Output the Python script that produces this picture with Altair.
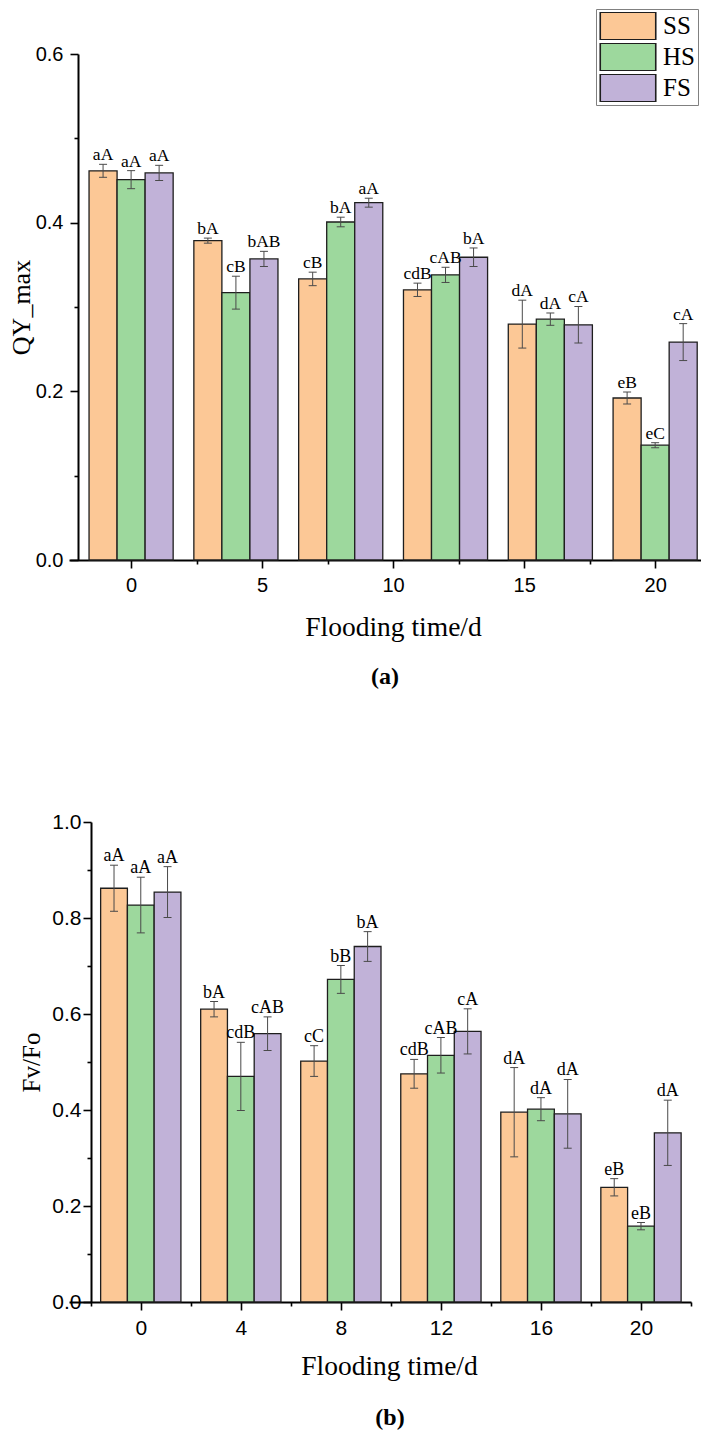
import altair as alt
import pandas as pd

DAYS = [0, 4, 8, 12, 16, 20]
SERIES = ["SS", "HS", "FS"]
COLORS = ["#FCC896", "#9DD89D", "#C1B2D8"]

# Panel (a): QY_max
QY_SS = [0.4615, 0.3787, 0.3333, 0.3204, 0.2797, 0.1921]
QY_HS = [0.4510, 0.3170, 0.4008, 0.3381, 0.2856, 0.1361]
QY_FS = [0.4590, 0.3570, 0.4237, 0.3590, 0.2789, 0.2584]
QY_SS_ERR = [0.0077, 0.0030, 0.0080, 0.0079, 0.0284, 0.0071]
QY_HS_ERR = [0.0107, 0.0195, 0.0057, 0.0090, 0.0073, 0.0030]
QY_FS_ERR = [0.0090, 0.0090, 0.0053, 0.0110, 0.0217, 0.0219]
QY_SS_LAB = ["aA", "bA", "cB", "cdB", "dA", "eB"]
QY_HS_LAB = ["aA", "cB", "bA", "cAB", "dA", "eC"]
QY_FS_LAB = ["aA", "bAB", "aA", "bA", "cA", "cA"]

# Panel (b): Fv/Fo
FV_SS = [0.862, 0.610, 0.502, 0.4754, 0.3954, 0.239]
FV_HS = [0.827, 0.470, 0.672, 0.514, 0.4017, 0.158]
FV_FS = [0.854, 0.559, 0.7406, 0.5638, 0.392, 0.3525]
FV_SS_ERR = [0.048, 0.016, 0.032, 0.030, 0.093, 0.018]
FV_HS_ERR = [0.058, 0.071, 0.029, 0.037, 0.024, 0.0076]
FV_FS_ERR = [0.053, 0.035, 0.031, 0.047, 0.0716, 0.068]
FV_SS_LAB = ["aA", "bA", "cC", "cdB", "dA", "eB"]
FV_HS_LAB = ["aA", "cdB", "bB", "cAB", "dA", "eB"]
FV_FS_LAB = ["aA", "cAB", "bA", "cA", "dA", "dA"]

QY_TICKS = [0, 5, 10, 15, 20]
QY_MINOR = [2.5, 7.5, 12.5, 17.5]
FV_TICKS = [0, 4, 8, 12, 16, 20]
FV_MINOR = [-2, 2, 6, 10, 14, 18, 22]


def frame(vals, errs, labs):
    rows = []
    for i, s in enumerate(SERIES):
        for j, d in enumerate(DAYS):
            rows.append({"day": d, "series": s, "idx": i,
                         "value": vals[i][j], "err": errs[i][j], "label": labs[i][j]})
    return pd.DataFrame(rows)


def panel(df, xdom, ydom, xvals, xminor, yvals, yminor, ytitle, ytitle_fs,
          ytitle_x, yoff, axis_fs, ylab_pad, label_fs, xtitle_x, xtitle_y,
          legend_x, legend_y, cap, cap_offset, cap_dx, width, height):
    W = 1.07
    base = alt.Chart(df).transform_calculate(
        x0=f"datum.day + (datum.idx - 1.5) * {W}",
        x1=f"datum.day + (datum.idx - 0.5) * {W}",
        xc=f"datum.day + (datum.idx - 1) * {W}",
        lo="datum.value - datum.err",
        hi="datum.value + datum.err",
    )
    xs = alt.Scale(domain=xdom, nice=False, zero=False)
    ys = alt.Scale(domain=ydom, nice=False, zero=True)

    xaxis = alt.Axis(values=xvals, format="d", labelFont="Liberation Sans",
                     labelFontSize=axis_fs, labelColor="black", labelPadding=7,
                     tickSize=8, tickWidth=1.6, tickColor="black",
                     domainColor="black", domainWidth=2, grid=False,
                     title="Flooding time/d", titleFont="Liberation Serif",
                     titleFontSize=27.5, titleFontWeight="normal", titleColor="black",
                     titleX=xtitle_x, titleY=xtitle_y, titleBaseline="alphabetic",
                     orient="bottom")
    yaxis = alt.Axis(values=yvals, format=".1f", labelFont="Liberation Sans",
                     labelFontSize=axis_fs, labelColor="black", labelPadding=ylab_pad,
                     tickSize=8, tickWidth=1.6, tickColor="black",
                     domainColor="black", domainWidth=2, grid=False, offset=yoff,
                     title=ytitle, titleFont="Liberation Serif", titleFontSize=ytitle_fs,
                     titleFontWeight="normal", titleColor="black",
                     titleX=ytitle_x, titleAngle=270, titleBaseline="middle",
                     orient="left")

    bars = base.mark_bar(stroke="#1e1e1e", strokeWidth=1.3).encode(
        x=alt.X("x0:Q", scale=xs, axis=xaxis),
        x2="x1",
        y=alt.Y("value:Q", scale=ys, axis=yaxis),
        y2=alt.datum(0),
        color=alt.Color("series:N", scale=alt.Scale(domain=SERIES, range=COLORS),
                        legend=alt.Legend(title=None, orient="none",
                                          legendX=legend_x, legendY=legend_y,
                                          symbolType="M-1,-0.5H1V0.5H-1Z",
                                          symbolSize=3080, symbolStrokeColor="#1e1e1e",
                                          symbolStrokeWidth=1.6, symbolOpacity=1,
                                          labelFont="Liberation Serif", labelFontSize=25,
                                          labelColor="black", labelOffset=6,
                                          clipHeight=28, rowPadding=3, padding=3,
                                          strokeColor="#808080", fillColor="white")),
    )
    rule = base.mark_rule(color="#4a4a4a", strokeWidth=1).encode(
        x=alt.X("xc:Q", scale=xs, axis=None),
        y=alt.Y("lo:Q", scale=ys, axis=None),
        y2="hi",
    )
    cap_hi = base.mark_tick(orient="horizontal", size=8, thickness=1,
                            color="#4a4a4a", opacity=1).encode(
        x=alt.X("xc:Q", scale=xs, axis=None),
        y=alt.Y("hi:Q", scale=ys, axis=None),
    )
    cap_lo = base.mark_tick(orient="horizontal", size=8, thickness=1,
                            color="#4a4a4a", opacity=1).encode(
        x=alt.X("xc:Q", scale=xs, axis=None),
        y=alt.Y("lo:Q", scale=ys, axis=None),
    )
    text = base.mark_text(baseline="alphabetic", dy=-4, font="Liberation Serif",
                          fontSize=label_fs, color="black").encode(
        x=alt.X("xc:Q", scale=xs, axis=None),
        y=alt.Y("hi:Q", scale=ys, axis=None),
        text="label:N",
    )
    minor = base.mark_point(opacity=0).encode(
        x=alt.X("xc:Q", scale=xs,
                axis=alt.Axis(values=xminor, labels=False, tickSize=4, tickWidth=1.6,
                              tickColor="black", domain=False, grid=False,
                              title=None, orient="bottom")),
        y=alt.Y("value:Q", scale=ys,
                axis=alt.Axis(values=yminor, labels=False, tickSize=4, tickWidth=1.6,
                              tickColor="black", domain=False, grid=False,
                              title=None, orient="left", offset=yoff)),
    )
    return alt.layer(bars, rule, cap_hi, cap_lo, text, minor).resolve_axis(
        x="independent", y="independent"
    ).properties(
        width=width, height=height,
        title=alt.TitleParams(cap, orient="bottom", anchor="middle", frame="group",
                              font="Liberation Serif", fontSize=24, fontWeight="bold",
                              color="black", offset=cap_offset, dx=cap_dx),
    )


df_a = frame([QY_SS, QY_HS, QY_FS], [QY_SS_ERR, QY_HS_ERR, QY_FS_ERR],
             [QY_SS_LAB, QY_HS_LAB, QY_FS_LAB])
df_b = frame([FV_SS, FV_HS, FV_FS], [FV_SS_ERR, FV_HS_ERR, FV_FS_ERR],
             [FV_SS_LAB, FV_HS_LAB, FV_FS_LAB])

top = panel(df_a, [-2.37, 21.75], [0, 0.6], QY_TICKS, QY_MINOR,
            [0, 0.2, 0.4, 0.6], [0.1, 0.3, 0.5], "QY_max", 26,
            -57, -9, 20, 7, 17.5, 324, 75, 527, -45, "(a)", 24, 0, 632, 506)
bottom = panel(df_b, [-2.87, 22], [0, 1.0], FV_TICKS, FV_MINOR,
               [0, 0.2, 0.4, 0.6, 0.8, 1.0], [0.1, 0.3, 0.5, 0.7, 0.9], "Fv/Fo", 25,
               -60, -22, 21, 2, 18, 320, 72, 513, -51, "(b)", 26, 10, 622, 480)

chart = alt.concat(top, bottom, columns=1, bounds="flush", spacing=262).properties(
    padding=0
).configure_view(stroke=None)

chart.save("out.html", embed_options={"renderer": "svg", "actions": False})
